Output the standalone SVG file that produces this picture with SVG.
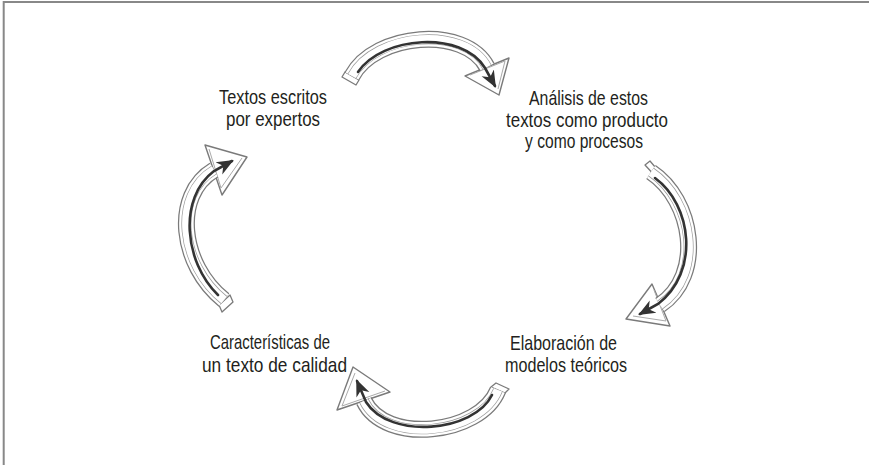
<svg xmlns="http://www.w3.org/2000/svg" width="869" height="465" viewBox="0 0 869 465">
<defs>
<style>
.lbl{font-family:"Liberation Sans",Arial,sans-serif;font-size:21px;fill:#231f20}
.band-o{fill:none;stroke:#7a7a7a;stroke-width:17;stroke-linecap:butt}
.band-i{fill:none;stroke:#fff;stroke-width:14.5;stroke-linecap:butt}
.band-l{fill:none;stroke:#9a9a9a;stroke-width:10}
.band-w{fill:none;stroke:#fff;stroke-width:8.6}
.head{fill:#fff;stroke:#7a7a7a;stroke-width:1.4;stroke-linejoin:round}
.head2{fill:none;stroke:#aaa;stroke-width:1}
.cap{fill:#fff;stroke:#7a7a7a;stroke-width:1.3;stroke-linejoin:round}
.dark{fill:none;stroke:#333;stroke-width:2.6;stroke-linecap:round;marker-end:url(#dh)}
</style>
<marker id="dh" markerUnits="userSpaceOnUse" markerWidth="18" markerHeight="16" viewBox="0 0 18 16" refX="15" refY="8" orient="auto">
<path d="M0,1 L17,8 L0,15 L5,8 Z" fill="#333"/>
</marker>
</defs>
<rect width="869" height="465" fill="#fff"/>
<path d="M3,2 H869 M3.7,1 V465" stroke="#888" stroke-width="2" fill="none"/>

<g id="connectors">
<g id="arrow-top">
<polygon class="head" points="465,76 509,58 499,95"/>
<polyline class="head2" points="470,75 505,61 498,89"/>
<polygon class="cap" points="345,72 359,80 356,85 342,77"/>
<path class="band-o" d="M352,76 C375,33 465,25 487,67"/>
<path class="band-i" d="M352,76 C375,33 465,25 487,67"/>
<path class="band-l" d="M352,76 C375,33 465,25 487,67"/>
<path class="band-w" d="M352,76 C375,33 465,25 487,67"/>
<path class="dark" d="M358,72 C382,36 462,30 485,68 L495,86"/>
</g>
<g id="arrow-right">
<polygon class="head" points="652,284 670,326 626,319"/>
<polyline class="head2" points="654,290 666,321 633,316"/>
<polygon class="cap" points="645,165 657,178 661,174 650,161"/>
<path class="band-o" d="M651,172 C693,200 705,275 660,305"/>
<path class="band-i" d="M651,172 C693,200 705,275 660,305"/>
<path class="band-l" d="M651,172 C693,200 705,275 660,305"/>
<path class="band-w" d="M651,172 C693,200 705,275 660,305"/>
<path class="dark" d="M655,178 C692,205 700,272 658,304 L640,314"/>
</g>
<g id="arrow-bottom">
<polygon class="head" points="390,392 337,410 353,367"/>
<polyline class="head2" points="385,391 342,406 355,373"/>
<polygon class="cap" points="491,387 505,393 509,389 496,383"/>
<path class="band-o" d="M498,390 C480,435 385,445 364,401"/>
<path class="band-i" d="M498,390 C480,435 385,445 364,401"/>
<path class="band-l" d="M498,390 C480,435 385,445 364,401"/>
<path class="band-w" d="M498,390 C480,435 385,445 364,401"/>
<path class="dark" d="M492,395 C474,432 390,440 366,402 L357,381"/>
</g>
<g id="arrow-left">
<polygon class="head" points="205,145 222,195 247,157"/>
<polyline class="head2" points="209,149 221,188 242,158"/>
<polygon class="cap" points="219,305 230,295 233,302 222,312"/>
<path class="band-o" d="M224,300 C180,265 172,195 214,170"/>
<path class="band-i" d="M224,300 C180,265 172,195 214,170"/>
<path class="band-l" d="M224,300 C180,265 172,195 214,170"/>
<path class="band-w" d="M224,300 C180,265 172,195 214,170"/>
<path class="dark" d="M218,295 C184,262 178,198 214,171 L232,161"/>
</g>
</g>

<g id="node-textos">
<text class="lbl" x="219" y="104" textLength="108" lengthAdjust="spacingAndGlyphs">Textos escritos</text>
<text class="lbl" x="226" y="126" textLength="94" lengthAdjust="spacingAndGlyphs">por expertos</text>
</g>
<g id="node-analisis">
<text class="lbl" x="529" y="105" textLength="119" lengthAdjust="spacingAndGlyphs">Análisis de estos</text>
<text class="lbl" x="506" y="127" textLength="162" lengthAdjust="spacingAndGlyphs">textos como producto</text>
<text class="lbl" x="525" y="148" textLength="118" lengthAdjust="spacingAndGlyphs">y como procesos</text>
</g>
<g id="node-elaboracion">
<text class="lbl" x="510" y="350" textLength="107" lengthAdjust="spacingAndGlyphs">Elaboración de</text>
<text class="lbl" x="505" y="372" textLength="122" lengthAdjust="spacingAndGlyphs">modelos teóricos</text>
</g>
<g id="node-caracteristicas">
<text class="lbl" x="210" y="349" textLength="120" lengthAdjust="spacingAndGlyphs">Características de</text>
<text class="lbl" x="202" y="372" textLength="145" lengthAdjust="spacingAndGlyphs">un texto de calidad</text>
</g>
</svg>
